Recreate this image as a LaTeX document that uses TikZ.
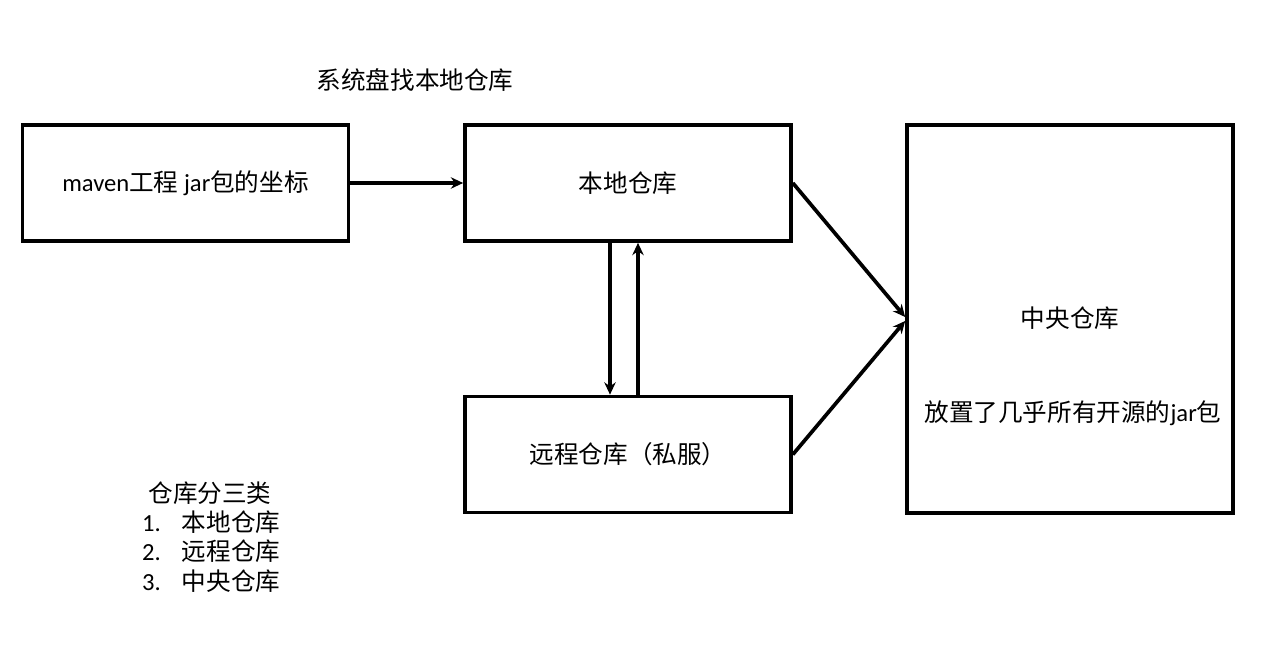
\documentclass[tikz,border=0pt]{standalone}
\usepackage{fontspec}
\setmainfont{Carlito}
\newfontfamily\cjk{Noto Sans CJK SC}
\usetikzlibrary{positioning,arrows.meta,calc}

\begin{document}
\begin{tikzpicture}[
    box/.style={rectangle, draw, line width=2.1pt, minimum width=6.52cm, minimum height=2.32cm, font=\fontsize{14}{17}\selectfont},
    arrow/.style={-{Stealth[length=7pt,width=6.5pt]}, line width=2.1pt},
    txt/.style={font=\fontsize{14}{17}\selectfont}
]
\useasboundingbox (0,0) rectangle (25.42,13.04);

% Caption
\node[txt] (caption) at (8.30,11.44) {\cjk 系统盘找本地仓库};

% Project
\node[box] (project) at (3.71,9.38) {maven{\cjk 工程} jar{\cjk 包的坐标}};

% Local repository
\node[box] (local) at (12.56,9.38) {\cjk 本地仓库};

% Remote repository
\node[box] (remote) at (12.56,3.95) {\cjk 远程仓库（私服）};

% Central repository
\node[box, minimum height=7.76cm] (central) at (21.40,6.66) {};
\node[txt] (centraltitle) at (21.40,6.68) {\cjk 中央仓库};
\node[txt] (centralnote) at (21.46,4.78) {{\cjk 放置了几乎所有开源的}jar{\cjk 包}};

% Arrows
\draw[arrow] (project) -- (local);
\draw[arrow] ($(local.south)+(-0.36,0)$) -- ($(remote.north)+(-0.36,0)$);
\draw[arrow] ($(remote.north)+(0.20,0)$) -- ($(local.south)+(0.20,0)$);
\draw[arrow] (local.east) -- ($(central.west)+(0,0.04)$);
\draw[arrow] (remote.east) -- ($(central.west)+(0,-0.04)$);

% Legend
\node[txt] (legend) at (4.20,3.18) {\cjk 仓库分三类};
\node[txt, anchor=west] (item1) at (2.72,2.60) {1.\hspace{0.42cm}{\cjk 本地仓库}};
\node[txt, anchor=west] (item2) at (2.72,2.02) {2.\hspace{0.42cm}{\cjk 远程仓库}};
\node[txt, anchor=west] (item3) at (2.72,1.42) {3.\hspace{0.42cm}{\cjk 中央仓库}};

\end{tikzpicture}
\end{document}
